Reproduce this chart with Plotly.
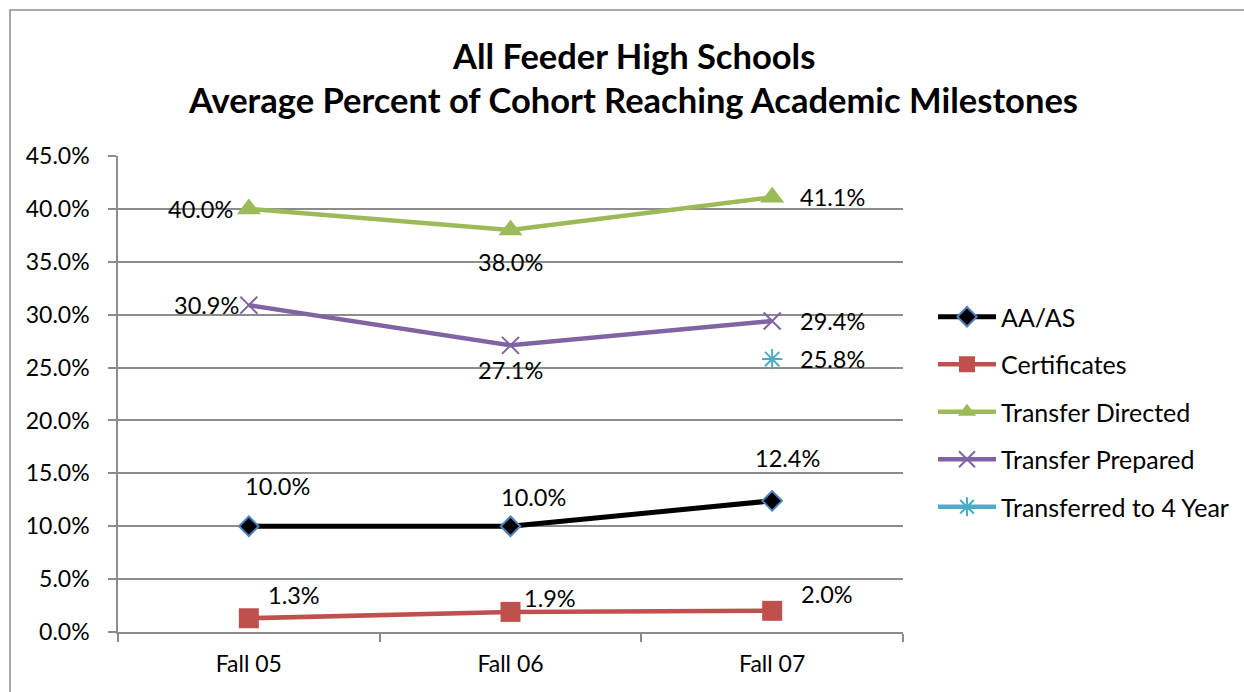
import plotly.graph_objects as go

# Category labels and series values (percent of cohort)
terms = ["Fall 05", "Fall 06", "Fall 07"]
aa_as = [10.0, 10.0, 12.4]
certificates = [1.3, 1.9, 2.0]
transfer_directed = [40.0, 38.0, 41.1]
transfer_prepared = [30.9, 27.1, 29.4]
transferred_4yr = [None, None, 25.8]

y_ticks = [0, 5, 10, 15, 20, 25, 30, 35, 40, 45]

FONT = "Lato"
GRID = "#8c8c8c"

# pixel geometry of the plot area inside the 1244x692 page
W, H = 1244, 692
L, R, T, B = 118, 903, 156, 632


def px_x(p):
    return (p - L) / (R - L)


def px_y(p):
    return (B - p) / (B - T)


series = [
    dict(name="AA/AS", y=aa_as, color="#000000",
         marker=dict(symbol="diamond", size=15, color="#000000",
                     line=dict(color="#4F81BD", width=2)),
         width=5,
         # label placement: (xshift, yshift, xanchor)
         labels=[(29, 40, "center"), (23, 29, "center"), (15, 43, "center")]),
    dict(name="Certificates", y=certificates, color="#C0504D",
         marker=dict(symbol="square", size=20, color="#C0504D",
                     line=dict(color="#C0504D", width=0)),
         width=4.5,
         labels=[(45, 23, "center"), (39, 14, "center"), (55, 17, "center")]),
    dict(name="Transfer Directed", y=transfer_directed, color="#9BBB59",
         marker=dict(symbol="triangle-up", size=21, color="#9BBB59",
                     line=dict(color="#9BBB59", width=0)),
         width=4.5,
         labels=[(-14, 0, "right"), (0, -32, "center"), (26, 0, "left")]),
    dict(name="Transfer Prepared", y=transfer_prepared, color="#8064A2",
         marker=dict(symbol="x-thin", size=17, color="#8064A2",
                     line=dict(color="#8064A2", width=2)),
         width=4.5,
         labels=[(-8, 0, "right"), (0, -25, "center"), (26, 0, "left")]),
    dict(name="Transferred to 4 Year", y=transferred_4yr, color="#4BACC6",
         marker=dict(symbol="asterisk", size=17, color="#4BACC6",
                     line=dict(color="#4BACC6", width=2)),
         width=4.5,
         labels=[None, None, (26, 0, "left")]),
]

fig = go.Figure()
annotations = []
for i, s in enumerate(series):
    fig.add_trace(go.Scatter(
        x=terms, y=s["y"], name=s["name"], mode="lines+markers",
        line=dict(color=s["color"], width=s["width"]),
        marker=s["marker"], legendgroup=f"g{i}", cliponaxis=False,
    ))
    for term, val, lab in zip(terms, s["y"], s["labels"]):
        if val is None or lab is None:
            continue
        dx, dy, anchor = lab
        annotations.append(dict(
            x=term, y=val, xref="x", yref="y", text=f"{val:.1f}%",
            showarrow=False, xshift=dx, yshift=dy, xanchor=anchor,
            yanchor="middle", font=dict(family=FONT, size=23.5, color="#000000"),
        ))

# chart title, two lines
annotations.append(dict(
    x=px_x(633), y=px_y(55), xref="paper", yref="paper",
    text="<b>All Feeder High Schools</b>", showarrow=False,
    xanchor="center", yanchor="middle",
    font=dict(family=FONT, size=34.5, color="#000000")))
annotations.append(dict(
    x=px_x(633), y=px_y(100), xref="paper", yref="paper",
    text="<b>Average Percent of Cohort Reaching Academic Milestones</b>",
    showarrow=False, xanchor="center", yanchor="middle",
    font=dict(family=FONT, size=34.5, color="#000000")))

fig.update_layout(
    width=W, height=H,
    margin=dict(l=L, r=W - R, t=T, b=H - B, autoexpand=False),
    paper_bgcolor="white", plot_bgcolor="white",
    annotations=annotations,
    shapes=[dict(type="rect", xref="paper", yref="paper",
                 x0=px_x(10), x1=px_x(1260), y0=px_y(720), y1=px_y(10),
                 line=dict(color="#8c8c8c", width=1.5), layer="below")],
    legend=dict(x=px_x(933), y=px_y(412), xanchor="left", yanchor="middle",
                font=dict(family=FONT, size=25, color="#000000"),
                tracegroupgap=12, traceorder="grouped", itemwidth=58,
                bgcolor="rgba(0,0,0,0)"),
    showlegend=True,
)
fig.update_xaxes(
    type="category", range=[-0.5, 2.5], tickson="boundaries",
    showgrid=False, showline=True, linecolor=GRID, linewidth=1.5,
    ticks="outside", ticklen=8, tickcolor=GRID, tickwidth=1.5,
    tickfont=dict(family=FONT, size=23, color="#000000"),
    ticklabelstandoff=11, zeroline=False,
)
fig.update_yaxes(
    range=[0, 45], tickvals=y_ticks,
    ticktext=[f"{v:.1f}%" for v in y_ticks],
    showgrid=True, gridcolor=GRID, gridwidth=1.5,
    showline=True, linecolor=GRID, linewidth=1.5,
    ticks="outside", ticklen=8, tickcolor=GRID, tickwidth=1.5,
    tickfont=dict(family=FONT, size=23, color="#000000"),
    ticklabelstandoff=14, zeroline=False,
)

fig.write_html("out.html")
